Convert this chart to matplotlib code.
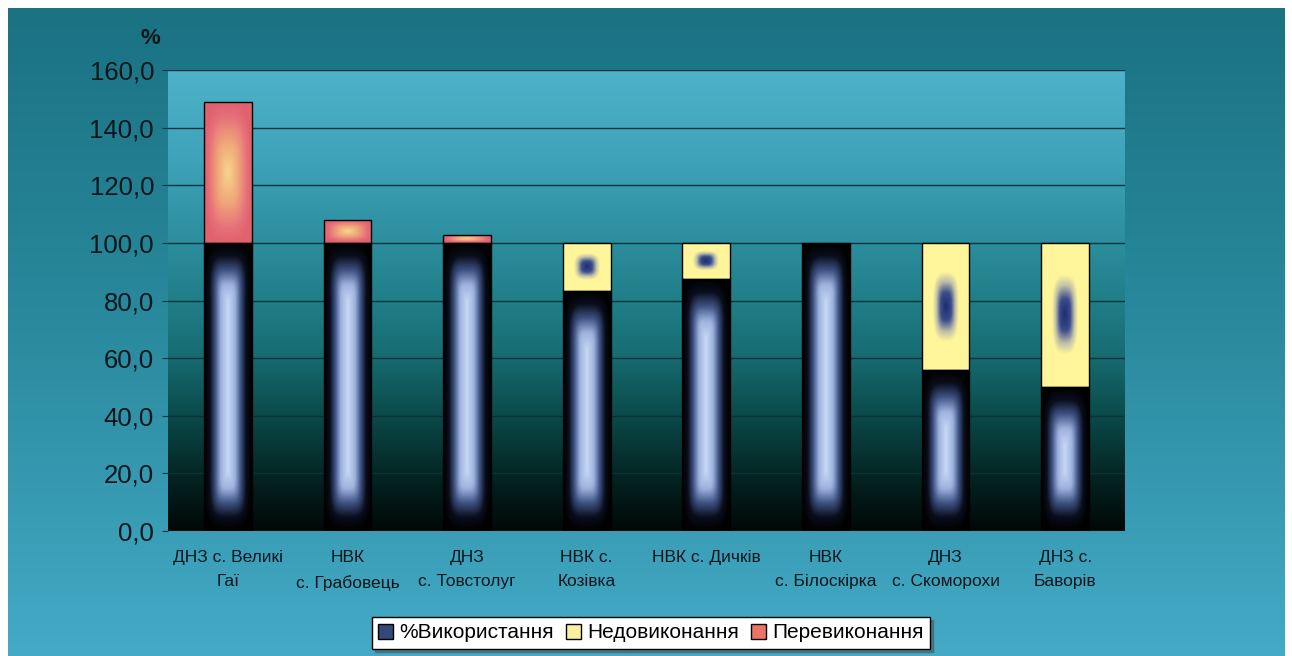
import numpy as np
import matplotlib
matplotlib.use("Agg")
import matplotlib.pyplot as plt
from matplotlib.colors import LinearSegmentedColormap
from matplotlib.patches import Patch
from matplotlib.ticker import FuncFormatter

plt.rcParams['font.family'] = ['Liberation Sans', 'DejaVu Sans']

CATEGORIES = ["ДНЗ с. Великі\nГаї", "НВК\nс. Грабовець", "ДНЗ\nс. Товстолуг", "НВК с.\nКозівка",
              "НВК с. Дичків", "НВК\nс. Білоскірка", "ДНЗ\nс. Скоморохи", "ДНЗ с.\nБаворів"]
USAGE = [100.0, 100.0, 100.0, 83.3, 87.5, 100.0, 56.0, 50.0]
UNDER = [0.0, 0.0, 0.0, 16.7, 12.5, 0.0, 44.0, 50.0]
OVER = [48.8, 8.0, 2.8, 0.0, 0.0, 0.0, 0.0, 0.0]
SERIES = ["%Використання", "Недовиконання", "Перевиконання"]
YTICKS = [0, 20, 40, 60, 80, 100, 120, 140, 160]

W, H = 1292, 656

cmap_usage = LinearSegmentedColormap.from_list("usage", [
    (0.0, "#c8d8f4"), (0.3, "#9cb2de"), (0.55, "#3c5080"), (0.78, "#0a0e1c"), (1.0, "#000000")])
cmap_under = LinearSegmentedColormap.from_list("under", [
    (0.0, "#1e2c6c"), (0.22, "#3a4c8c"), (0.4, "#c0c0a8"), (0.55, "#fff59a"), (1.0, "#fff69c")])
cmap_over = LinearSegmentedColormap.from_list("over", [
    (0.0, "#f8d68c"), (0.45, "#f0a478"), (0.8, "#e6707a"), (1.0, "#e0626e")])
cmap_plot = LinearSegmentedColormap.from_list("plotbg", [
    (0.0, "#010907"), (0.1, "#03201e"), (0.25, "#0b4a4a"), (0.38, "#176c72"),
    (0.5, "#207e88"), (0.63, "#2c8e9e"), (0.8, "#3ea2b8"), (1.0, "#4eb2ca")])
cmap_outer = LinearSegmentedColormap.from_list("outer", ["#1a7282", "#2a8a9e", "#44aac6"])


def fill_gradient(ax, patch, cmap, mode, px_x, px_y, p=2.5):
    x0, y0 = patch.get_x(), patch.get_y()
    w, h = patch.get_width(), patch.get_height()
    if h <= 0:
        patch.set_visible(False)
        return
    wp, hp = w * px_x, h * px_y
    nx, ny = max(int(wp), 2), max(int(hp), 2)
    dx = np.abs(np.linspace(-wp / 2, wp / 2, nx))[None, :]
    dy = np.abs(np.linspace(-hp / 2, hp / 2, ny))[:, None]
    a = dx / (wp / 2)
    if mode == "inset":
        lv = min(hp / 2, 60.0)
        b = np.clip(1 - (hp / 2 - dy) / lv, 0, 1)
    else:
        b = dy / (hp / 2)
    t = np.clip((a ** p + b ** p) ** (1 / p), 0, 1)
    im = ax.imshow(t, cmap=cmap, vmin=0, vmax=1, extent=[x0, x0 + w, y0, y0 + h],
                   origin="lower", aspect="auto", zorder=3, interpolation="bilinear")
    im.set_clip_path(patch)
    patch.set_facecolor("none")


fig = plt.figure(figsize=(W / 100, H / 100), dpi=100)
fig.patch.set_facecolor("white")

# outer teal background
bg = fig.add_axes([0, 0, 1, 1], zorder=-10)
bg.set_xlim(0, W)
bg.set_ylim(0, H)
bg.axis("off")
grad = np.linspace(1, 0, 256)[:, None]
bg.imshow(grad, cmap=cmap_outer, extent=[8, W - 7, 0, H - 8], origin="lower", aspect="auto")

ax = fig.add_axes([168 / W, 125 / H, 957 / W, 461 / H])
x = np.arange(len(CATEGORIES))
ax.set_xlim(-0.5, len(CATEGORIES) - 0.5)
ax.set_ylim(0, 160)

# plot area gradient
pg = np.linspace(0, 1, 256)[:, None]
ax.imshow(pg, cmap=cmap_plot, extent=[-0.5, len(CATEGORIES) - 0.5, 0, 160], origin="lower",
          aspect="auto", zorder=0)

ax.set_yticks(YTICKS)
ax.grid(True, axis="y", color="#0a3238", linewidth=1.0, zorder=1)
ax.set_axisbelow(False)
for s in ax.spines.values():
    s.set_visible(False)

usage = np.array(USAGE)
under = np.array(UNDER)
over = np.array(OVER)
b1 = ax.bar(x, usage, width=0.4, edgecolor="black", linewidth=1, zorder=4)
b2 = ax.bar(x, under, width=0.4, bottom=usage, edgecolor="black", linewidth=1, zorder=4)
b3 = ax.bar(x, over, width=0.4, bottom=usage + under, edgecolor="black", linewidth=1, zorder=4)

px_x = 957 / len(CATEGORIES)
px_y = 461 / 160
for p in b1.patches:
    fill_gradient(ax, p, cmap_usage, "inset", px_x, px_y, p=4.0)
for p in b2.patches:
    fill_gradient(ax, p, cmap_under, "prop", px_x, px_y, p=3.0)
for p in b3.patches:
    fill_gradient(ax, p, cmap_over, "prop", px_x, px_y, p=3.0)

ax.set_xlim(-0.5, len(CATEGORIES) - 0.5)
ax.set_ylim(0, 160)

ax.yaxis.set_major_formatter(FuncFormatter(lambda v, pos: f"{v:.1f}".replace(".", ",")))
ax.tick_params(axis="y", labelsize=18.5, length=4, color="#0c3a40", labelcolor="#0c161c", pad=6)
ax.set_xticks(x)
ax.set_xticklabels(CATEGORIES, fontsize=12.5, color="#0c161c", linespacing=1.75,
                   family=["Liberation Sans Narrow", "Liberation Sans"], va="top")
ax.tick_params(axis="x", length=0, pad=14)

fig.text(150 / W, 1 - 38 / H, "%", fontsize=16, fontweight="bold", color="#0c161c",
         ha="center", va="center")

handles = [Patch(facecolor="#34487a", edgecolor="black", linewidth=1),
           Patch(facecolor="#f6f0a0", edgecolor="black", linewidth=1),
           Patch(facecolor="#ea7468", edgecolor="black", linewidth=1)]
leg = fig.legend(handles, SERIES, loc="center", bbox_to_anchor=(651 / W, 1 - 633 / H), ncol=3,
                 fontsize=15, frameon=True, fancybox=False, shadow=True, handlelength=0.7,
                 handleheight=0.7, handletextpad=0.3, columnspacing=0.6, borderpad=0.3)
leg.get_frame().set_edgecolor("black")
leg.get_frame().set_facecolor("white")
leg.get_frame().set_alpha(1)

fig.savefig("out.png", dpi=100)
